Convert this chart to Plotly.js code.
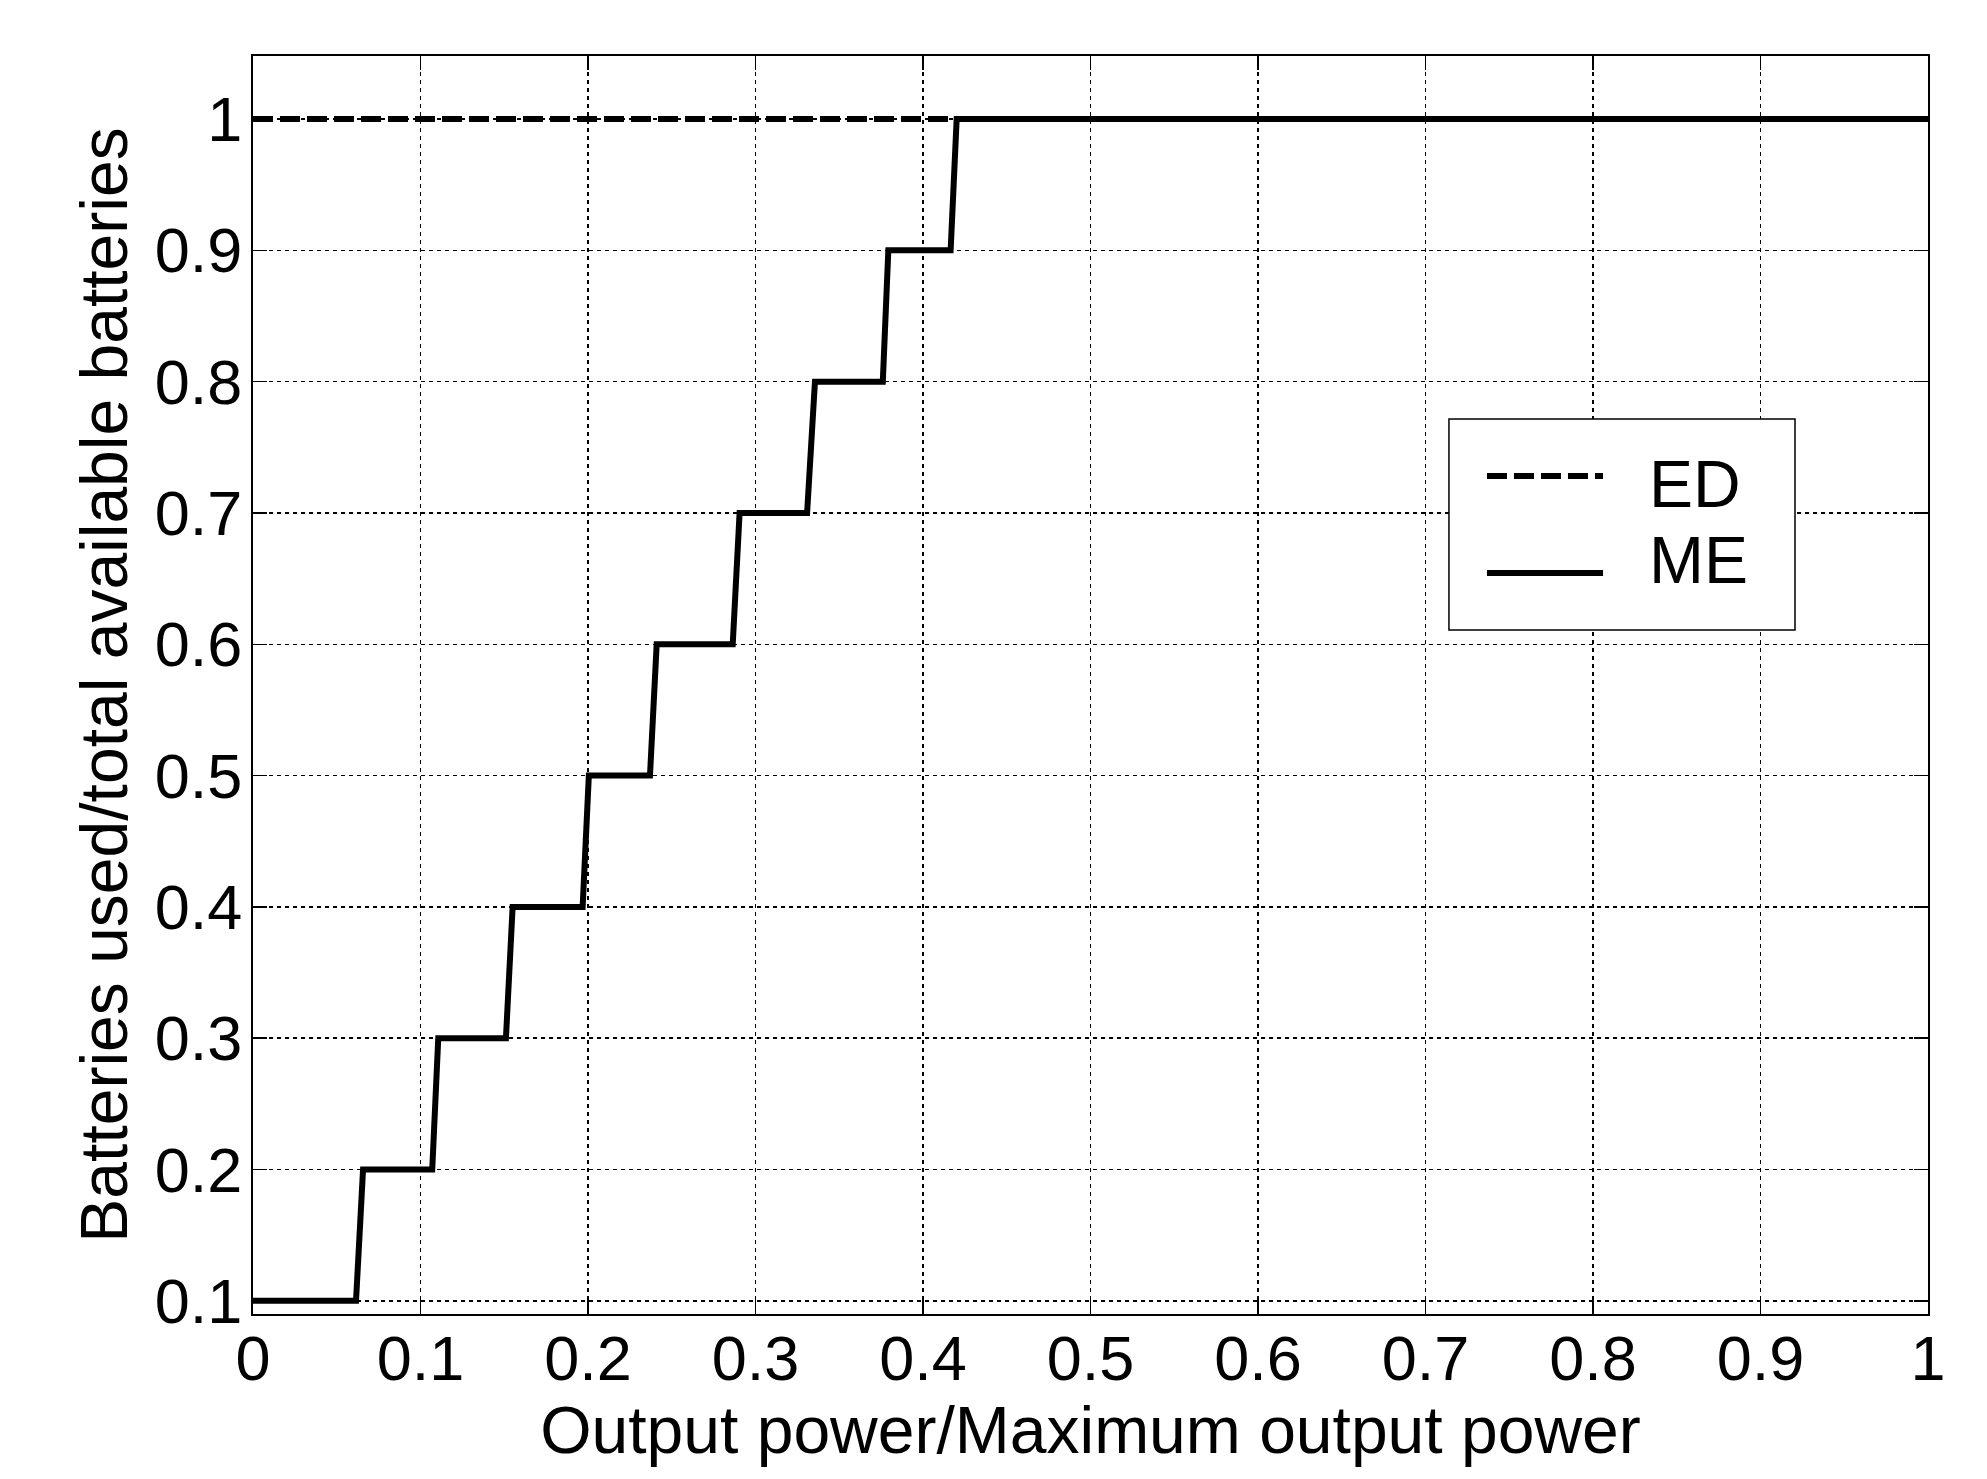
<!DOCTYPE html>
<html>
<head>
<meta charset="utf-8">
<script src="https://cdn.plot.ly/plotly-3.0.1.min.js"></script>
<style>
  html, body { margin: 0; padding: 0; background: #fff; }
  #plot { width: 1987px; height: 1479px; }
</style>
</head>
<body>
<div id="plot"></div>
<script>
// ME: battery fraction levels and where each level starts / ends on the x axis
const meLevels = [0.1, 0.2, 0.3, 0.4, 0.5, 0.6, 0.7, 0.8, 0.9, 1.0];
const meStart  = [0, 0.0657, 0.1106, 0.155, 0.2005, 0.241, 0.2905, 0.3355, 0.3793, 0.4201];
const meEnd    = [0.0615, 0.107, 0.151, 0.1968, 0.237, 0.2864, 0.3308, 0.376, 0.4165, 1.0];

// ED: all batteries used everywhere
const edX = [0, 1];
const edY = [1, 1];

const xTicks = [0, 0.1, 0.2, 0.3, 0.4, 0.5, 0.6, 0.7, 0.8, 0.9, 1];
const yTicks = [0.1, 0.2, 0.3, 0.4, 0.5, 0.6, 0.7, 0.8, 0.9, 1];
const legendNames = ['ED', 'ME'];

let meX = [], meY = [];
for (let i = 0; i < meLevels.length; i++) {
    meX.push(meStart[i], meEnd[i]);
    meY.push(meLevels[i], meLevels[i]);
}

const font = 'Liberation Sans, Arial, sans-serif';

const edTrace = {
    x: edX, y: edY, type: 'scatter', mode: 'lines', name: legendNames[0],
    line: { color: 'black', width: 6, dash: '20px,7px' },
    hoverinfo: 'skip'
};
const meTrace = {
    x: meX, y: meY, type: 'scatter', mode: 'lines', name: legendNames[1],
    line: { color: 'black', width: 6 },
    hoverinfo: 'skip'
};

// hand-made legend box (MATLAB style, long line samples)
const lg = { x0: 0.714, x1: 0.9206, y0: 0.5437, y1: 0.7114, lx0: 0.7367, lx1: 0.806,
             tx: 0.8322, rows: [0.6661, 0.589], textRows: [0.6598, 0.5994] };

const shapes = [
    { type: 'rect', xref: 'paper', yref: 'paper', x0: lg.x0, x1: lg.x1, y0: lg.y0, y1: lg.y1,
      line: { color: 'black', width: 1.5 }, fillcolor: 'white', layer: 'above' },
    { type: 'line', xref: 'paper', yref: 'paper', x0: lg.lx0, x1: lg.lx1, y0: lg.rows[0], y1: lg.rows[0],
      line: { color: 'black', width: 6, dash: '20px,7px' }, layer: 'above' },
    { type: 'line', xref: 'paper', yref: 'paper', x0: lg.lx0, x1: lg.lx1, y0: lg.rows[1], y1: lg.rows[1],
      line: { color: 'black', width: 6 }, layer: 'above' }
];
const annotations = legendNames.map((n, i) => ({
    xref: 'paper', yref: 'paper', x: lg.tx, y: lg.textRows[i], xanchor: 'left', yanchor: 'middle',
    text: n, showarrow: false, font: { family: font, size: 66, color: 'black' }
}));

const axisCommon = {
    showline: true, linecolor: 'black', linewidth: 2, mirror: 'ticks',
    ticks: 'inside', ticklen: 14, tickwidth: 1.5, tickcolor: 'black',
    showgrid: true, gridcolor: 'black', gridwidth: 1.5, griddash: '4px,4px',
    zeroline: false,
    tickfont: { family: font, size: 63, color: 'black' }
};

Plotly.newPlot('plot', [edTrace, meTrace], {
    width: 1987, height: 1479,
    margin: { l: 253, r: 59, t: 56, b: 165 },
    paper_bgcolor: 'white', plot_bgcolor: 'white',
    showlegend: false,
    xaxis: Object.assign({}, axisCommon, {
        range: [0, 1], tickvals: xTicks, ticktext: xTicks.map(String),
        ticklabelstandoff: -12,
        title: { text: 'Output power/Maximum output power', font: { family: font, size: 66, color: 'black' }, standoff: 0 }
    }),
    yaxis: Object.assign({}, axisCommon, {
        range: [0.09, 1.048], tickvals: yTicks, ticktext: yTicks.map(String),
        ticklabelstandoff: -4,
        title: { text: 'Batteries used/total available batteries', font: { family: font, size: 66, color: 'black' }, standoff: 6 }
    }),
    shapes: shapes,
    annotations: annotations
}, { displayModeBar: false, staticPlot: true });
</script>
</body>
</html>
